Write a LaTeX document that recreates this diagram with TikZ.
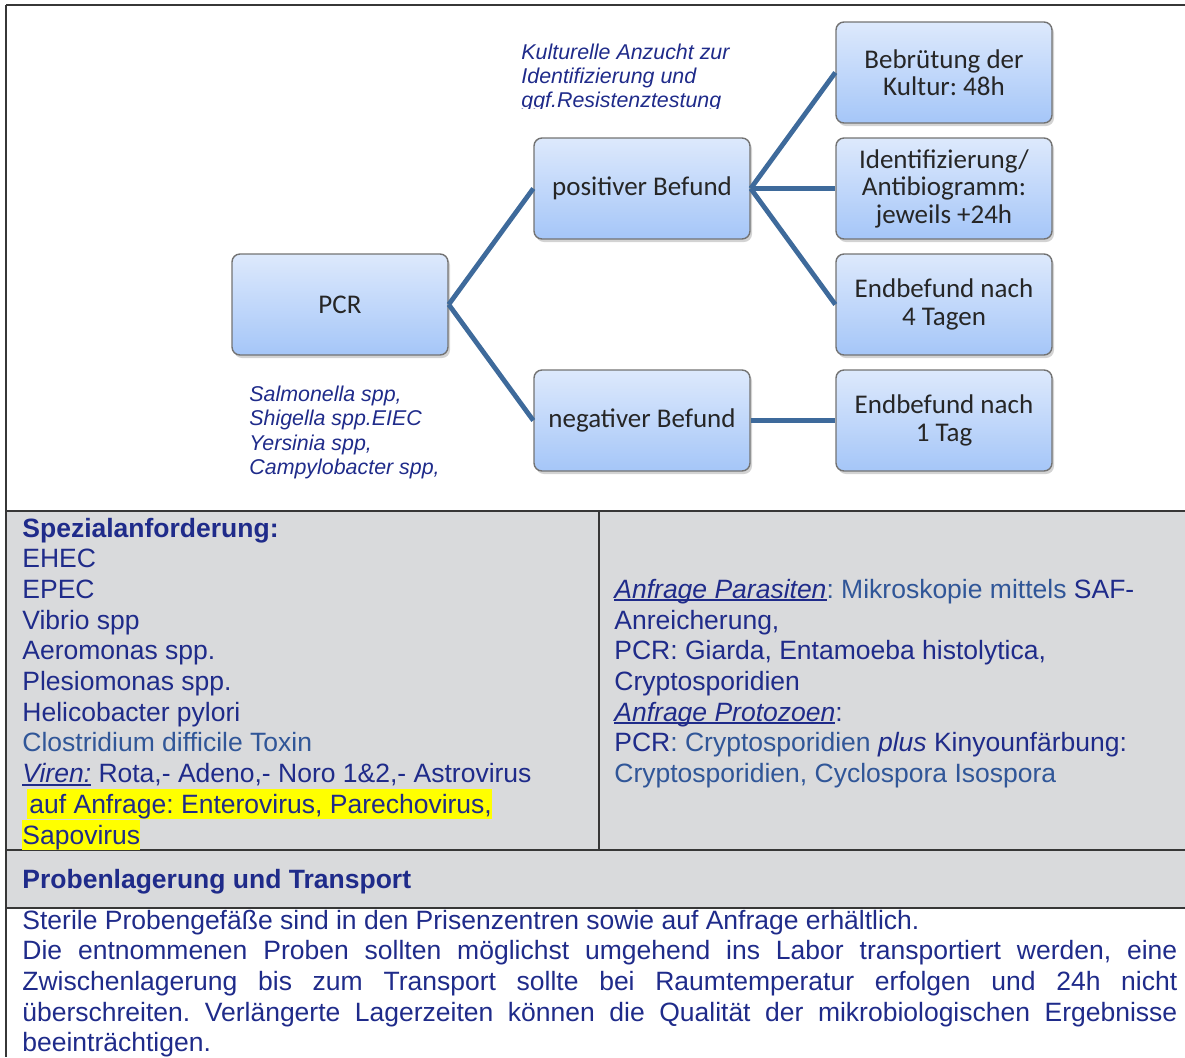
\documentclass[tikz,border=0pt]{standalone}
\usepackage{fontspec}
\setmainfont{Liberation Sans}
\newfontfamily\boxfont{Carlito}
\usetikzlibrary{shadows}
\definecolor{navy}{RGB}{31,43,138}
\definecolor{lblue}{RGB}{48,86,152}
\definecolor{cellgray}{RGB}{217,218,220}
\definecolor{hlyellow}{RGB}{255,255,0}
\definecolor{linkblue}{RGB}{62,106,155}
\definecolor{boxtop}{RGB}{221,233,252}
\definecolor{boxbot}{RGB}{165,198,248}
\definecolor{rulegray}{RGB}{55,55,55}
\frenchspacing
\newcommand{\hlbox}[1]{{\setlength{\fboxsep}{0pt}\colorbox{hlyellow}{\rule[-0.212em]{0pt}{1.117em}#1}}}
\newcommand{\ulined}[1]{\setbox0=\hbox{#1}\rlap{\rule[-0.11em]{\wd0}{0.07em}}\box0\relax}
\tikzset{
  befund/.style={draw=gray!90!black, line width=0.7pt, rounded corners=4pt,
    top color=boxtop, bottom color=boxbot, minimum width=108pt, minimum height=50.5pt,
    inner sep=0pt, align=center, text=black!85,
    font=\boxfont\fontsize{13.5pt}{13.75pt}\selectfont,
    drop shadow={shadow xshift=1pt, shadow yshift=-1.5pt, opacity=0.35}},
  link/.style={linkblue, line width=2.4pt},
  celltext/.style={anchor=base west, inner sep=0pt, text=navy, font=\fontsize{13.25pt}{15.35pt}\selectfont},
  flowlabel/.style={anchor=base west, inner sep=0pt, text=navy, font=\itshape\fontsize{10.7pt}{12.15pt}\selectfont},
}
\begin{document}
\begin{tikzpicture}[x=0.5pt, y=-0.5pt]
\useasboundingbox (0,0) rectangle (1185,1057);
\clip (0,0) rectangle (1185,1057);
% table cells and rules
\fill[cellgray] (6,511) rectangle (1185,908);
\draw[rulegray, line width=1pt] (6,5) -- (1185,5) (6,5) -- (6,1057)
  (6,511) -- (1185,511) (6,850) -- (1185,850) (6,908) -- (1185,908) (599,511) -- (599,850);
% flow chart
\node[befund] (pcr) at (340,304.5) {PCR};
\node[befund] (pos) at (642,188.5) {positiver Befund};
\node[befund] (neg) at (642,420.5) {negativer Befund};
\foreach \n/\y/\txt in {1/72.5/{Bebrütung der\\Kultur: 48h}, 2/188.5/{Identifizierung/\\Antibiogramm:\\jeweils +24h},
    3/304.5/{Endbefund nach\\4 Tagen}, 4/420.5/{Endbefund nach\\1 Tag}}
  \node[befund] (res\n) at (944,\y) {\txt};
\draw[link] (pcr.east) -- (pos.west);
\draw[link] (pcr.east) -- (neg.west);
\foreach \n in {1,2,3}
  \draw[link] (pos.east) -- (res\n.west);
\draw[link] (neg.east) -- (res4.west);
% labels next to the chart
\begin{scope}
\clip (500,30) rectangle (800,108);
\foreach \i/\txt in {0/Kulturelle Anzucht zur, 1/Identifizierung und, 2/ggf.Resistenztestung}
  \node[flowlabel] (kult\i) at (521,59.2+\i*24.3) {\txt};
\end{scope}
\foreach \i/\txt in {0/{Salmonella spp,}, 1/Shigella spp.EIEC, 2/{Yersinia spp,}, 3/{Campylobacter spp,}}
  \node[flowlabel] (erreger\i) at (249,401.5+\i*24.3) {\txt};
% left column
\foreach \i/\txt in {0/{\textbf{Spezialanforderung:}}, 1/EHEC, 2/EPEC, 3/Vibrio spp, 4/Aeromonas spp.,
    5/Plesiomonas spp., 6/Helicobacter pylori, 7/{\color{lblue}Clostridium difficile Toxin},
    8/{\ulined{\textit{Viren:}} Rota,- Adeno,- Noro 1\&2,- Astrovirus},
    9/{\hspace*{2.5pt}\hlbox{\hspace*{1pt}auf Anfrage: Enterovirus, Parechovirus,}}, 10/{\hlbox{Sapovirus}}}
  \node[celltext] (spez\i) at (22,537+\i*30.7) {\txt};
% right column
\foreach \i/\txt in {2/{\ulined{\textit{Anfrage Parasiten}}{\color{lblue}: Mikroskopie mittels} SAF-}, 3/{Anreicherung,},
    4/{PCR: Giarda, Entamoeba histolytica,}, 5/Cryptosporidien, 6/{\ulined{\textit{Anfrage Protozoen}}:},
    7/{PCR{\color{lblue}: Cryptosporidien} \textit{plus} Kinyounfärbung:},
    8/{\color{lblue}Cryptosporidien, Cyclospora Isospora}}
  \node[celltext] (anf\i) at (614,537+\i*30.7) {\txt};
% storage and transport
\node[celltext, font=\fontsize{13.25pt}{15.35pt}\selectfont\bfseries] (lager) at (22,888) {Probenlagerung und Transport};
\node[celltext] (para0) at (22,929) {Sterile Probengefäße sind in den Prisenzentren sowie auf Anfrage erhältlich.};
\foreach \i/\txt in {1/{Die entnommenen Proben sollten möglichst umgehend ins Labor transportiert werden, eine},
    2/{Zwischenlagerung bis zum Transport sollte bei Raumtemperatur erfolgen und 24h nicht},
    3/{überschreiten. Verlängerte Lagerzeiten können die Qualität der mikrobiologischen Ergebnisse}}
  \node[celltext] (para\i) at (22,929+\i*30.7) {\makebox[577.5pt][s]{\txt}};
\node[celltext] (para4) at (22,929+4*30.7) {beeinträchtigen.};
\end{tikzpicture}
\end{document}
